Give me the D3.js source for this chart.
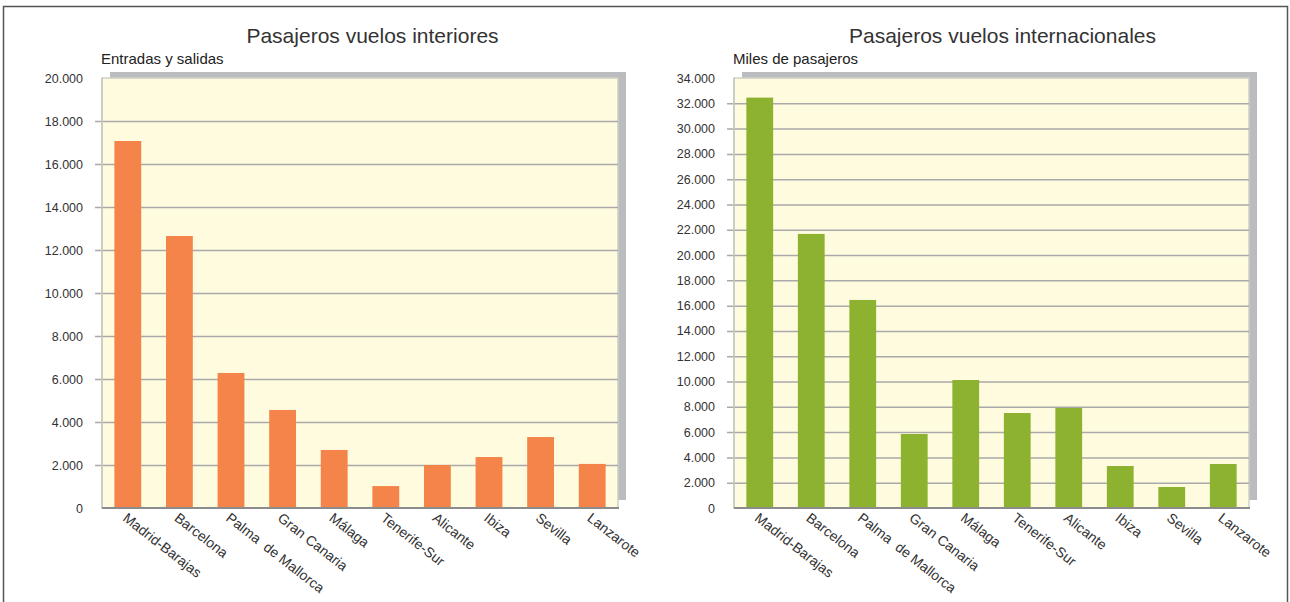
<!DOCTYPE html>
<html><head><meta charset="utf-8">
<script src="https://cdn.jsdelivr.net/npm/d3@7"></script>
<style>
body{margin:0;background:#fff;}
svg{display:block;font-family:"Liberation Sans",Arial,sans-serif;}
</style></head>
<body>
<svg id="c" width="1290" height="602"></svg>
<script>
const categories = ["Madrid-Barajas","Barcelona","Palma  de Mallorca","Gran Canaria","Málaga","Tenerife-Sur","Alicante","Ibiza","Sevilla","Lanzarote"];
const interiores = [17070, 12650, 6280, 4560, 2700, 1020, 2000, 2370, 3300, 2050];
const internacionales = [32450, 21670, 16450, 5850, 10120, 7510, 7910, 3320, 1660, 3480];
const ticksInteriores = [0,2000,4000,6000,8000,10000,12000,14000,16000,18000,20000];
const ticksInternacionales = d3.range(0, 34001, 2000);

const svg = d3.select("#c");
svg.append("rect").attr("x",3.5).attr("y",6.5).attr("width",1284).attr("height",610)
  .attr("fill","none").attr("stroke","#555").attr("stroke-width",1.5);

const fmt = v => v === 0 ? "0" : d3.format(",")(v).replace(/,/g, ".");

function chart(o){
  const g = svg.append("g");
  const x = d3.scaleBand().domain(categories).range([o.left, o.right]).paddingInner(0.48).paddingOuter(0.24);
  const y = d3.scaleLinear().domain([0, o.max]).range([508, 78]);
  g.append("rect").attr("x",o.left+8).attr("y",72).attr("width",o.right-o.left).attr("height",428).attr("fill","#bbbcc0");
  g.append("rect").attr("x",o.left).attr("y",78).attr("width",o.right-o.left).attr("height",430)
    .attr("fill","#fffbdf").attr("stroke","#cfcfc4").attr("stroke-width",1.5);
  const yAxis = d3.axisLeft(y).tickValues(o.ticks).tickSize(o.right-o.left+7).tickPadding(12).tickFormat(fmt);
  const ax = g.append("g").attr("transform",`translate(${o.right},0)`).call(yAxis);
  ax.select(".domain").remove();
  ax.selectAll(".tick line").attr("stroke","#a9a9a9").attr("stroke-width",1.5)
    .filter(d => d === 0 || d === o.max).remove();
  ax.selectAll(".tick text").attr("fill","#333").attr("font-size","12.5px")
    .attr("font-family","Liberation Sans, Arial, sans-serif");
  g.selectAll(".bar").data(o.values).join("rect")
    .attr("x",(d,i)=>x(categories[i])).attr("width",x.bandwidth())
    .attr("y",d=>y(d)).attr("height",d=>y(0)-y(d)).attr("fill",o.color);
  g.append("line").attr("x1",o.left).attr("x2",o.left).attr("y1",78).attr("y2",508).attr("stroke","#c8c8c0").attr("stroke-width",1.5);
  g.append("line").attr("x1",o.left).attr("x2",o.right+1).attr("y1",y(0)).attr("y2",y(0)).attr("stroke","#8c8c8c").attr("stroke-width",2);
  g.selectAll(".xl").data(categories).join("text")
    .attr("transform",d=>`translate(${x(d)+x.bandwidth()/2+1},${511}) rotate(38)`)
    .attr("dy","0.8em").attr("font-size","14px").attr("fill","#333")
    .style("white-space","pre").text(d=>d);
  g.append("text").attr("x",o.titleX).attr("y",42.5).attr("text-anchor","middle")
    .attr("font-size","21px").attr("fill","#333").text(o.title);
  g.append("text").attr("x",o.left-1).attr("y",63.5).attr("font-size","15px").attr("fill","#222").text(o.subtitle);
}

chart({left:102,right:618,max:20000,ticks:ticksInteriores,values:interiores,color:"#f4844a",
  title:"Pasajeros vuelos interiores",subtitle:"Entradas y salidas",titleX:372.5});
chart({left:734,right:1249,max:34000,ticks:ticksInternacionales,values:internacionales,color:"#8db22f",
  title:"Pasajeros vuelos internacionales",subtitle:"Miles de pasajeros",titleX:1002.5});
</script>
</body></html>
